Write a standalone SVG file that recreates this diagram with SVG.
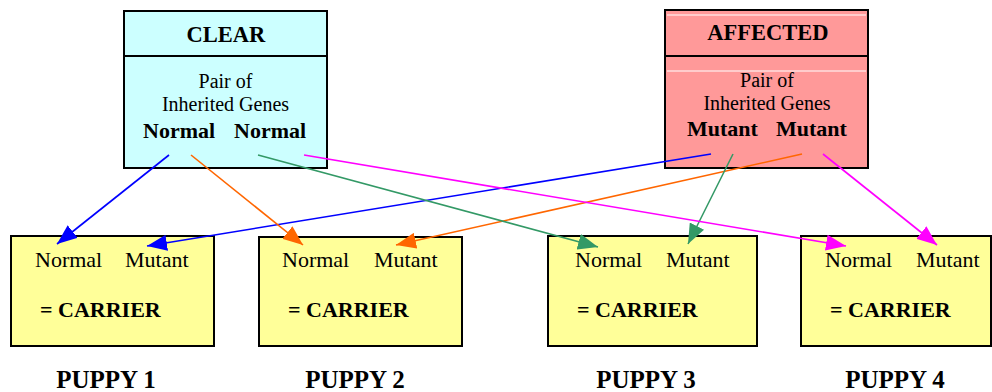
<svg xmlns="http://www.w3.org/2000/svg" width="992" height="392" viewBox="0 0 992 392" font-family="Liberation Serif">
<defs>
<style>
.h{font-weight:bold;font-size:22.5px}
.b{font-weight:bold;font-size:22px}
.r{font-size:22px}
.s{font-size:20px}
.p{font-weight:bold;font-size:25px}
.box{stroke:#000;stroke-width:2}
.pup{fill:#FFFF99}
</style>
<marker id="mb" viewBox="0 0 20 16" refX="20" refY="8" markerWidth="20" markerHeight="16" markerUnits="userSpaceOnUse" orient="auto"><path d="M0,0 L20,8 L0,16 Z" fill="#0000FF"/></marker>
<marker id="mo" viewBox="0 0 20 16" refX="20" refY="8" markerWidth="20" markerHeight="16" markerUnits="userSpaceOnUse" orient="auto"><path d="M0,0 L20,8 L0,16 Z" fill="#FF6600"/></marker>
<marker id="mg" viewBox="0 0 20 16" refX="20" refY="8" markerWidth="20" markerHeight="16" markerUnits="userSpaceOnUse" orient="auto"><path d="M0,0 L20,8 L0,16 Z" fill="#339966"/></marker>
<marker id="mm" viewBox="0 0 20 16" refX="20" refY="8" markerWidth="20" markerHeight="16" markerUnits="userSpaceOnUse" orient="auto"><path d="M0,0 L20,8 L0,16 Z" fill="#FF00FF"/></marker>
</defs>
<rect width="992" height="392" fill="#fff"/>

<g id="clear">
<rect class="box" x="124" y="11" width="203" height="157" fill="#CCFFFF"/>
<line x1="124" y1="56" x2="327" y2="56" stroke="#000" stroke-width="2"/>
<text class="h" x="226" y="42" text-anchor="middle">CLEAR</text>
<text class="s" x="225.5" y="88" text-anchor="middle">Pair of</text>
<text class="s" x="225.5" y="111" text-anchor="middle">Inherited Genes</text>
<text class="b" x="143" y="138">Normal</text>
<text class="b" x="234" y="138">Normal</text>
</g>

<g id="affected">
<rect class="box" x="665" y="10" width="203" height="158" fill="#FF9999"/>
<line x1="667" y1="15" x2="866" y2="15" stroke="#fff" stroke-width="1"/>
<line x1="665" y1="56" x2="868" y2="56" stroke="#000" stroke-width="2"/>
<line x1="667" y1="71" x2="866" y2="71" stroke="#fff" stroke-width="1"/>
<text class="h" x="768" y="40" text-anchor="middle">AFFECTED</text>
<text class="s" x="767" y="87" text-anchor="middle">Pair of</text>
<text class="s" x="767" y="110" text-anchor="middle">Inherited Genes</text>
<text class="b" x="687" y="136">Mutant</text>
<text class="b" x="776" y="136">Mutant</text>
</g>

<g id="puppy1">
<rect class="box pup" x="11" y="236" width="203" height="110"/>
<text class="r" x="35" y="267">Normal</text>
<text class="r" x="125" y="267">Mutant</text>
<text class="b" x="40" y="317">= CARRIER</text>
<text class="p" x="106" y="388" text-anchor="middle">PUPPY 1</text>
</g>

<g id="puppy2">
<rect class="box pup" x="259" y="237" width="203" height="109"/>
<text class="r" x="282" y="267">Normal</text>
<text class="r" x="374" y="267">Mutant</text>
<text class="b" x="288" y="317">= CARRIER</text>
<text class="p" x="355" y="388" text-anchor="middle">PUPPY 2</text>
</g>

<g id="puppy3">
<rect class="box pup" x="548" y="236" width="209" height="110"/>
<text class="r" x="575" y="267">Normal</text>
<text class="r" x="666" y="267">Mutant</text>
<text class="b" x="577" y="317">= CARRIER</text>
<text class="p" x="646" y="388" text-anchor="middle">PUPPY 3</text>
</g>

<g id="puppy4">
<rect class="box pup" x="801" y="236" width="190" height="110"/>
<text class="r" x="825" y="267">Normal</text>
<text class="r" x="916" y="267">Mutant</text>
<text class="b" x="830" y="317">= CARRIER</text>
<text class="p" x="895" y="388" text-anchor="middle">PUPPY 4</text>
</g>

<g id="connectors" stroke-width="1.6" fill="none">
<line x1="169" y1="155" x2="57" y2="244" stroke="#0000FF" marker-end="url(#mb)"/>
<line x1="711" y1="154" x2="147" y2="246" stroke="#0000FF" marker-end="url(#mb)"/>
<line x1="191" y1="155" x2="303" y2="245" stroke="#FF6600" marker-end="url(#mo)"/>
<line x1="802" y1="154" x2="396" y2="245" stroke="#FF6600" marker-end="url(#mo)"/>
<line x1="258" y1="155" x2="598" y2="247" stroke="#339966" marker-end="url(#mg)"/>
<line x1="733" y1="154" x2="688" y2="244" stroke="#339966" marker-end="url(#mg)"/>
<line x1="304" y1="155" x2="846" y2="246" stroke="#FF00FF" marker-end="url(#mm)"/>
<line x1="823" y1="154" x2="937" y2="245" stroke="#FF00FF" marker-end="url(#mm)"/>
</g>
</svg>
